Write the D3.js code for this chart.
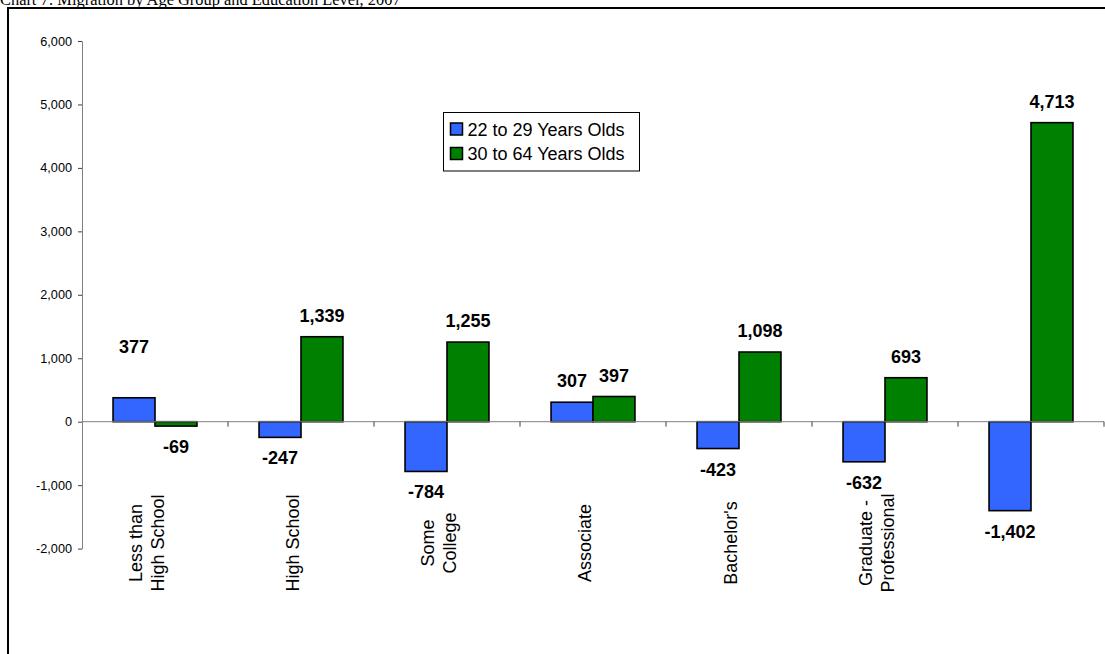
<!DOCTYPE html>
<html>
<head>
<meta charset="utf-8">
<script src="https://cdn.jsdelivr.net/npm/d3@7"></script>
<style>
  body { margin: 0; background: #fff; overflow: hidden; }
  svg { display: block; }
</style>
</head>
<body>
<script>
// values
const categories = ['Less than|High School', 'High School', 'Some|College', 'Associate', "Bachelor's", 'Graduate -|Professional', '']
const seriesNames = ['22 to 29 Years Olds', '30 to 64 Years Olds']
const young = [377, -247, -784, 307, -423, -632, -1402]
const older = [-69, 1339, 1255, 397, 1098, 693, 4713]
const yTicks = [-2000, -1000, 0, 1000, 2000, 3000, 4000, 5000, 6000]
const colors = ['#3366ff', '#008000']

const W = 1105, H = 654
const plot = {left: 82, right: 1104, top: 41, bottom: 548.6}

// plain hyphen for negatives, like the original
const fmt = d3.formatLocale({decimal: '.', thousands: ',', grouping: [3], currency: ['', ''], minus: '-'}).format(',')

const svg = d3.select('body')
  .append('svg')
  .attr('width', W)
  .attr('height', H)

// chart-area frame, runs off the right and bottom of the picture
svg.append('rect')
  .attr('x', 8).attr('y', 8)
  .attr('width', 1200).attr('height', 800)
  .attr('fill', 'none')
  .attr('stroke', '#000')
  .attr('stroke-width', 2)

svg.append('text')
  .attr('x', 0).attr('y', 4.5)
  .attr('font-family', '"Liberation Serif", "Times New Roman", serif')
  .attr('font-size', 16.4)
  .text('Chart 7: Migration by Age Group and Education Level, 2007')

const x = d3.scaleBand().domain(categories).range([plot.left, plot.right])
const xs = d3.scaleBand().domain([0, 1]).range([0, x.bandwidth()]).paddingOuter(0.74)
const y = d3.scaleLinear().domain([-2000, 6000]).range([plot.bottom, plot.top])

// y axis
const g_yaxis = svg.append('g')
  .attr('transform', `translate(${plot.left},0)`)
  .call(d3.axisLeft(y).tickValues(yTicks).tickFormat(fmt).tickSize(4).tickSizeOuter(0))
g_yaxis.select('.domain').attr('stroke', '#808080')
g_yaxis.selectAll('.tick line').attr('stroke', '#404040')
g_yaxis.selectAll('.tick text')
  .attr('font-family', 'Arial, "Liberation Sans", sans-serif')
  .attr('font-size', 12.7)
  .attr('fill', '#000')
  .attr('x', -10)

// bars
const rows = categories.map((c, i) => ({cat: c, vals: [young[i], older[i]]}))
const bars = []
rows.forEach((r) => r.vals.forEach((v, s) => bars.push({cat: r.cat, s, v})))

svg.append('g').selectAll('rect')
  .data(bars)
  .join('rect')
  .attr('x', (d) => x(d.cat) + xs(d.s))
  .attr('width', xs.bandwidth())
  .attr('y', (d) => y(Math.max(0, d.v)))
  .attr('height', (d) => Math.abs(y(d.v) - y(0)))
  .attr('fill', (d) => colors[d.s])
  .attr('stroke', '#000')
  .attr('stroke-width', 1.6)

// x axis line at zero with ticks between categories
const g_xaxis = svg.append('g')
g_xaxis.append('line')
  .attr('x1', plot.left).attr('x2', plot.right)
  .attr('y1', y(0)).attr('y2', y(0))
  .attr('stroke', '#808080')
g_xaxis.selectAll('line.tick')
  .data(categories)
  .join('line')
  .attr('class', 'tick')
  .attr('x1', (d) => x(d) + x.bandwidth()).attr('x2', (d) => x(d) + x.bandwidth())
  .attr('y1', y(0)).attr('y2', y(0) + 5)
  .attr('stroke', '#404040')

// data labels (the 377 label was lifted by hand in the original)
const nudge = {'Less than|High School-0': -30}
svg.append('g').selectAll('text')
  .data(bars)
  .join('text')
  .attr('x', (d) => x(d.cat) + xs(d.s) + xs.bandwidth() / 2)
  .attr('y', (d) => (d.v >= 0 ? y(d.v) - 15 : y(d.v) + 27) + (nudge[d.cat + '-' + d.s] || 0))
  .attr('text-anchor', 'middle')
  .attr('font-family', 'Arial, "Liberation Sans", sans-serif')
  .attr('font-weight', 'bold')
  .attr('font-size', 18)
  .text((d) => fmt(d.v))

// rotated category labels
const catLabels = svg.append('g').selectAll('text')
  .data(categories)
  .join('text')
  .attr('transform', (d) => `translate(${x(d) + x.bandwidth() / 2 - 8},543) rotate(-90)`)
  .attr('text-anchor', 'middle')
  .attr('font-family', 'Arial, "Liberation Sans", sans-serif')
  .attr('font-size', 18)

catLabels.each(function (d) {
  const lines = d.split('|')
  d3.select(this).selectAll('tspan')
    .data(lines)
    .join('tspan')
    .attr('x', 0)
    .attr('y', (l, i) => (i - (lines.length - 1) / 2) * 22 + 6.3)
    .text((l) => l)
})

// legend
const legend = svg.append('g').attr('transform', 'translate(443.5,112.5)')
legend.append('rect')
  .attr('width', 196).attr('height', 58.5)
  .attr('fill', '#fff')
  .attr('stroke', '#000')
  .attr('stroke-width', 1)
const items = legend.selectAll('g')
  .data(seriesNames)
  .join('g')
  .attr('transform', (d, i) => `translate(7,${16.5 + i * 24.5})`)
items.append('rect')
  .attr('x', 0).attr('y', -6)
  .attr('width', 12).attr('height', 12)
  .attr('fill', (d, i) => colors[i])
  .attr('stroke', '#000')
  .attr('stroke-width', 1.5)
items.append('text')
  .attr('x', 17).attr('y', 6.5)
  .attr('font-family', 'Arial, "Liberation Sans", sans-serif')
  .attr('font-size', 18)
  .text((d) => d)
</script>
</body>
</html>
